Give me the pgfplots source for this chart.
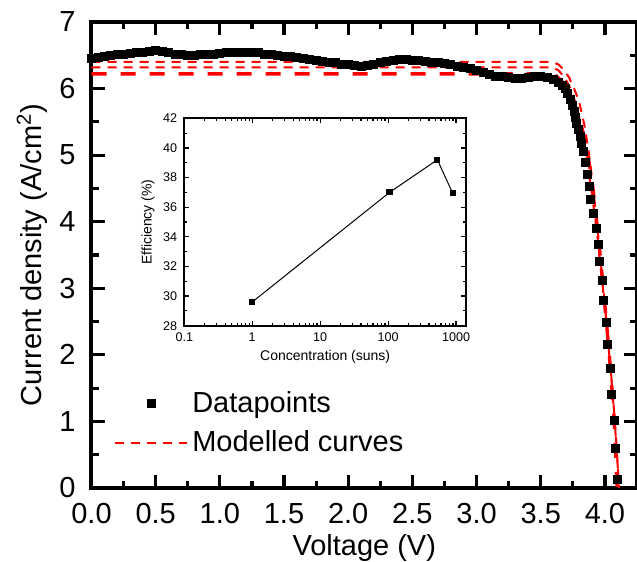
\documentclass[border=0pt]{standalone}
\usepackage{fontspec}
\setmainfont{Liberation Sans}
\usepackage{pgfplots}
\pgfplotsset{compat=1.18}
\usepackage{pgfplotstable}
\usetikzlibrary{calc}

\pgfplotsset{
 marklegend/.style={legend image code/.code={\draw[mark repeat=2,mark phase=2,##1]
    plot coordinates {(0pt,0pt) (18pt,0pt) (36pt,0pt)};}},
 linelegend/.style={legend image code/.code={\draw[##1] (0pt,0pt) -- (36pt,0pt);}},
}

\pgfplotstableread{
V J
0.00 6.45
0.05 6.47
0.10 6.49
0.15 6.50
0.20 6.51
0.25 6.52
0.30 6.53
0.35 6.54
0.40 6.55
0.45 6.56
0.50 6.57
0.55 6.56
0.60 6.54
0.65 6.52
0.70 6.51
0.75 6.50
0.80 6.50
0.85 6.51
0.90 6.52
0.95 6.52
1.00 6.53
1.05 6.54
1.10 6.55
1.15 6.55
1.20 6.55
1.25 6.55
1.30 6.54
1.35 6.52
1.40 6.51
1.45 6.50
1.50 6.49
1.55 6.48
1.60 6.47
1.65 6.45
1.70 6.44
1.75 6.42
1.80 6.41
1.85 6.40
1.90 6.39
1.95 6.37
2.00 6.36
2.05 6.35
2.10 6.34
2.15 6.35
2.20 6.37
2.25 6.39
2.30 6.41
2.35 6.43
2.40 6.44
2.45 6.44
2.50 6.43
2.55 6.42
2.60 6.41
2.65 6.40
2.70 6.39
2.75 6.38
2.80 6.36
2.85 6.34
2.90 6.32
2.95 6.30
3.00 6.28
3.05 6.25
3.10 6.22
3.15 6.19
3.20 6.18
3.25 6.17
3.30 6.16
3.35 6.16
3.40 6.17
3.45 6.18
3.50 6.18
3.55 6.17
3.60 6.14
3.64 6.10
3.67 6.05
3.69 6.00
3.71 5.92
3.73 5.83
3.745 5.75
3.76 5.66
3.77 5.57
3.78 5.48
3.795 5.38
3.81 5.28
3.82 5.17
3.83 5.06
3.85 4.89
3.86 4.71
3.88 4.53
3.89 4.34
3.91 4.13
3.93 3.90
3.95 3.66
3.96 3.40
3.98 3.12
3.99 2.82
4.01 2.49
4.02 2.15
4.04 1.80
4.05 1.41
4.07 1.02
4.08 0.59
4.10 0.13
}\measured

\pgfplotstableread{
V J
0.00 6.40
3.55 6.40
3.60 6.39
3.64 6.36
3.68 6.28
3.72 6.17
3.76 6.00
3.80 5.80
3.84 5.45
3.87 5.10
3.90 4.65
3.94 3.95
3.98 3.15
4.02 2.35
4.06 1.45
4.09 0.65
4.11 0.00
}\modelA

\pgfplotstableread{
V J
0.00 6.32
3.55 6.32
3.60 6.31
3.64 6.27
3.68 6.18
3.72 6.05
3.76 5.85
3.80 5.57
3.84 5.17
3.87 4.80
3.90 4.40
3.94 3.80
3.98 3.08
4.02 2.30
4.06 1.42
4.09 0.62
4.11 0.00
}\modelB

\pgfplotstableread{
V J
0.00 6.22
3.55 6.22
3.62 6.19
3.66 6.12
3.70 6.02
3.74 5.88
3.78 5.68
3.81 5.48
3.85 5.20
3.88 4.85
3.91 4.45
3.95 3.75
3.99 2.95
4.03 2.10
4.07 1.10
4.095 0.00
}\modelC

\pgfplotstableread{
C E
1 29.6
105 37.0
530 39.2
890 36.95
}\effic

\begin{document}
\begin{tikzpicture}
\begin{axis}[
 name=main,
 scale only axis,
 width=272.75pt,height=233pt,
 xmin=0,xmax=4.25,ymin=0,ymax=7,
 xtick distance=0.5,ytick distance=1,
 minor x tick num=1,minor y tick num=1,
 tick align=inside,
 major tick length=6.5pt,minor tick length=3.5pt,
 tick style={line width=1.6pt,black},
 axis line style={line width=2pt},
 /pgf/number format/assume math mode=true,
 xticklabel style={/pgf/number format/fixed,/pgf/number format/fixed zerofill,
   /pgf/number format/precision=1,font=\fontsize{14.5}{17}\selectfont,yshift=-4pt},
 yticklabel style={font=\fontsize{14.5}{17}\selectfont,xshift=-4.5pt},
 label style={font=\fontsize{14.5}{17}\selectfont},
 xlabel={Voltage (V)},
 ylabel={Current density (A/cm\textsuperscript{2})},
 xlabel style={at={(axis description cs:0.5,-0.1288)},anchor=center},
 ylabel style={at={(axis description cs:-0.109,0.5)},anchor=center},
 legend style={draw=none,fill=none,font=\fontsize{14.5}{17}\selectfont,
   at={(axis description cs:0.03,0.225)},anchor=north west,row sep=3.5pt},
 legend cell align=left,
]
\addplot[only marks,mark=square*,mark size=2pt,black,marklegend]
  table[x=V,y=J]{\measured};
\addlegendentry{Datapoints}
\addplot[red,line width=1pt,dash pattern=on 4.5pt off 3.5pt,linelegend]
  table[x=V,y=J]{\modelA};
\addlegendentry{Modelled curves}
\addplot[red,line width=1pt,dash pattern=on 4.5pt off 3.5pt,forget plot]
  table[x=V,y=J]{\modelB};
\addplot[red,line width=1.7pt,dash pattern=on 7.5pt off 7pt,forget plot]
  table[x=V,y=J]{\modelC};
\end{axis}

\begin{axis}[
 name=inset,
 at={($(main.south west)+(46.4pt,81.15pt)$)},anchor=south west,
 scale only axis,
 width=140.85pt,height=103.7pt,
 xmode=log,xmin=0.1,xmax=1400,ymin=28,ymax=42,
 log ticks with fixed point,
 xtick={0.1,1,10,100,1000},
 ytick distance=2,minor y tick num=1,
 tick align=inside,
 major tick length=2.5pt,minor tick length=1.5pt,
 tick style={line width=0.6pt,black},
 axis line style={line width=0.9pt},
 /pgf/number format/assume math mode=true,
 /pgf/number format/1000 sep={},
 ticklabel style={font=\fontsize{6.3}{7}\selectfont},
 label style={font=\fontsize{7}{8}\selectfont},
 xlabel={Concentration (suns)},
 ylabel={Efficiency (\%)},
 xlabel style={at={(axis description cs:0.5,-0.149)},anchor=center},
 ylabel style={at={(axis description cs:-0.129,0.5)},anchor=center},
]
\addplot[black,line width=0.5pt,mark=square*,mark size=1.3pt]
  table[x=C,y=E]{\effic};
\end{axis}

\pgfresetboundingbox
\path[use as bounding box] ($(main.south west)+(-45.75pt,-37pt)$) rectangle ($(main.north east)+(0pt,11pt)$);
\end{tikzpicture}
\end{document}
